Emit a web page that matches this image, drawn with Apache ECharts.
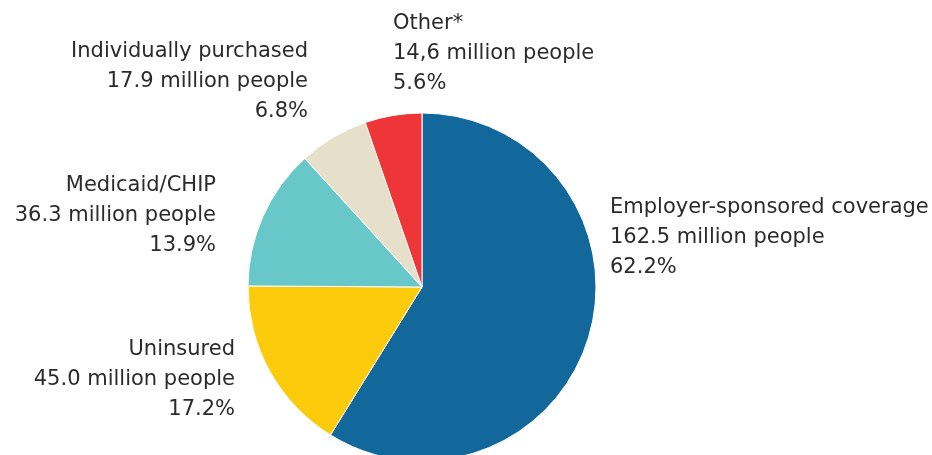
<!DOCTYPE html>
<html>
<head>
<meta charset="utf-8">
<script src="https://cdn.jsdelivr.net/npm/echarts@6/dist/echarts.min.js"></script>
<style>
html,body{margin:0;padding:0;background:#fff;}
#chart{width:932px;height:455px;}
</style>
</head>
<body>
<div id="chart"></div>
<script>
// Data
const categories = ['Employer-sponsored coverage', 'Uninsured', 'Medicaid/CHIP', 'Individually purchased', 'Other*'];
const millions = [162.5, 45.0, 36.3, 17.9, 14.6];
const millionsText = ['162.5', '45.0', '36.3', '17.9', '14,6'];
const percents = [62.2, 17.2, 13.9, 6.8, 5.6];

// Styles / layout (kept separate from data)
const colors = ['#12679b', '#fccb0b', '#68c7c8', '#e6dfca', '#ee3639'];
const labelPos = [
  {x: 610, y: 238, align: 'left'},
  {x: 235, y: 380, align: 'right'},
  {x: 216, y: 216, align: 'right'},
  {x: 308, y: 82, align: 'right'},
  {x: 393, y: 54, align: 'left'}
];

const chart = echarts.init(document.getElementById('chart'), null, {renderer: 'canvas'});
chart.setOption({
  animation: false,
  backgroundColor: '#fff',
  series: [{
    type: 'pie',
    center: [422, 287],
    radius: 174,
    startAngle: 90,
    clockwise: true,
    avoidLabelOverlap: false,
    itemStyle: {borderColor: '#fff', borderWidth: 1},
    label: {
      show: true,
      position: 'outside',
      fontFamily: 'DejaVu Sans',
      fontSize: 21,
      lineHeight: 30,
      color: '#2b2b2b',
      formatter: function (p) {
        const i = p.dataIndex;
        return categories[i] + '\n' + millionsText[i] + ' million people\n' + percents[i].toFixed(1) + '%';
      }
    },
    labelLine: {show: false},
    labelLayout: function (params) {
      const lp = labelPos[params.dataIndex];
      return {x: lp.x, y: lp.y, align: lp.align, verticalAlign: 'middle'};
    },
    data: categories.map((c, i) => ({name: c, value: millions[i], itemStyle: {color: colors[i]}}))
  }]
});
</script>
</body>
</html>
